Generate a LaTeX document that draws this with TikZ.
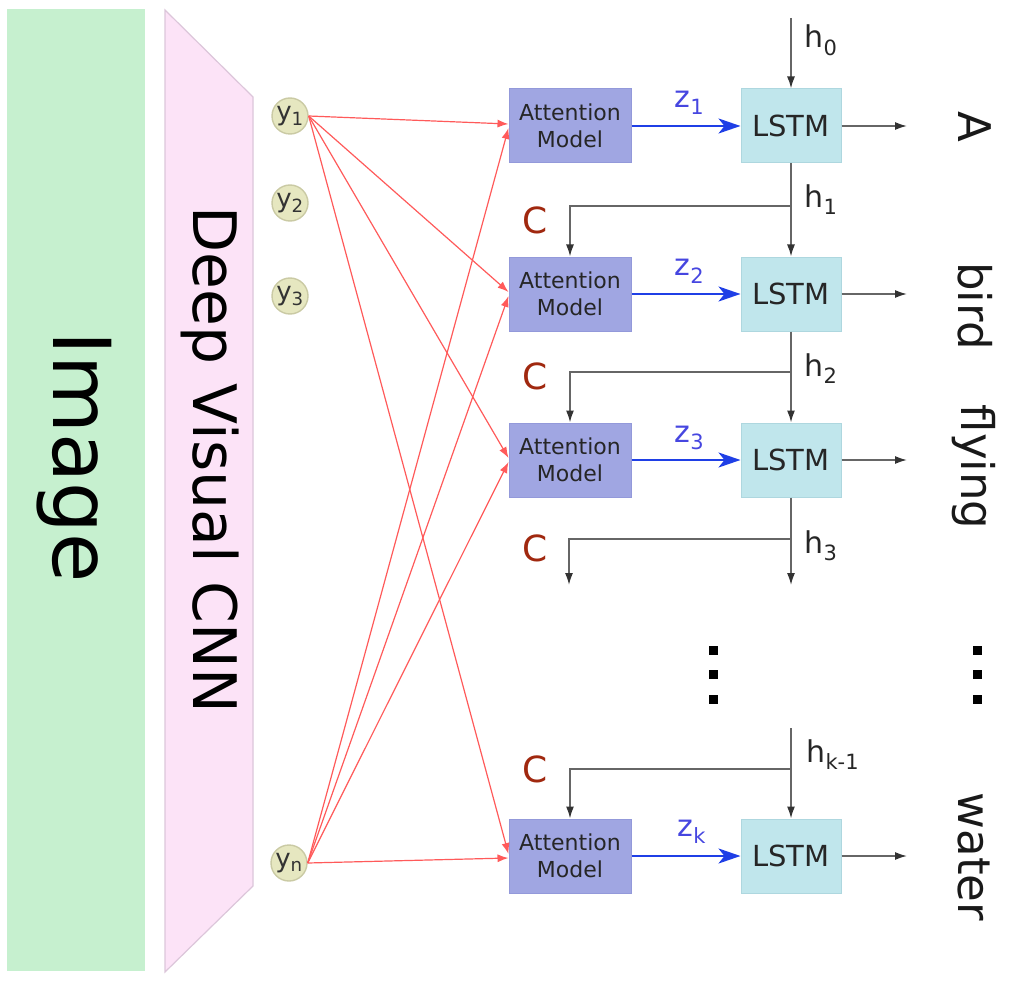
\documentclass[tikz,border=0pt]{standalone}
\usepackage{fontspec}
\setmainfont{DejaVu Sans}
\usetikzlibrary{arrows.meta}

\definecolor{imggreen}{HTML}{C6F0CF}
\definecolor{cnnpink}{HTML}{FCE3F7}
\definecolor{cnnedge}{HTML}{DCC6DA}
\definecolor{attfill}{HTML}{A0A6E2}
\definecolor{attedge}{HTML}{9399DA}
\definecolor{lstmfill}{HTML}{C0E6EC}
\definecolor{lstmedge}{HTML}{AED7DF}
\definecolor{featfill}{HTML}{E6E7C0}
\definecolor{featedge}{HTML}{CACAA4}
\definecolor{featline}{HTML}{FF5A5A}
\definecolor{zblue}{HTML}{1F3FE6}
\definecolor{zlabel}{HTML}{4646E0}
\definecolor{ctxred}{HTML}{A0280F}
\definecolor{flow}{HTML}{666666}

\newcommand{\setsize}[2]{\fontsize{#1}{#2}\selectfont}

\begin{document}
\begin{tikzpicture}[x=1pt,y=-1pt,
  attbox/.style={rectangle, fill=attfill, draw=attedge, line width=1pt,
    minimum width=122pt, minimum height=74pt, inner sep=0pt, align=center,
    text=black!85, font=\setsize{22}{27}},
  lstmbox/.style={rectangle, fill=lstmfill, draw=lstmedge, line width=1pt,
    minimum width=100pt, minimum height=74pt, inner sep=0pt,
    text=black!85, font=\setsize{29}{34}},
  feat/.style={circle, fill=featfill, draw=featedge, line width=1.4pt,
    minimum size=36pt, inner sep=0pt, text=black!80, font=\setsize{26}{28}},
  featarrow/.style={draw=featline, line width=1.2pt,
    -{Latex[length=11pt,width=8pt]}},
  zarrow/.style={draw=zblue, line width=2.4pt,
    -{Stealth[length=22pt,width=15pt,inset=6pt]}},
  flowarrow/.style={draw=flow, line width=1.6pt,
    -{Latex[length=12pt,width=8pt,color=black!80]}},
  zlab/.style={anchor=base west, text=zlabel, font=\setsize{30}{34}},
  hlab/.style={anchor=base west, text=black!85, font=\setsize{30}{34}},
  ctx/.style={text=ctxred, font=\setsize{36}{40}},
  word/.style={rotate=-90, anchor=base, text=black!90, font=\setsize{45}{50}},
]
\useasboundingbox (0,0) rectangle (1035,984);

% input image and CNN encoder
\fill[imggreen] (7,9) rectangle (145,971);
\filldraw[fill=cnnpink, draw=cnnedge, line width=1.2pt]
  (165,10) -- (253,97) -- (253,886) -- (165,972) -- cycle;
\node[rotate=-90, anchor=base, font=\setsize{80}{96}] (img) at (53,457) {Image};
\node[rotate=-90, anchor=base, font=\setsize{60}{72}] (cnn) at (193,460) {Deep Visual CNN};

% feature vectors
\node[feat] (y1) at (290,116) {y\textsubscript{1}};
\node[feat] (y2) at (290,203) {y\textsubscript{2}};
\node[feat] (y3) at (290,296) {y\textsubscript{3}};
\node[feat] (yn) at (289,863) {y\textsubscript{n}};

% attention models and LSTM cells
\node[attbox] (a1) at (570,126) {Attention\\Model};
\node[attbox] (a2) at (570,294) {Attention\\Model};
\node[attbox] (a3) at (570,460) {Attention\\Model};
\node[attbox] (ak) at (570,856) {Attention\\Model};

\node[lstmbox] (l1) at (791,126) {LSTM};
\node[lstmbox] (l2) at (791,294) {LSTM};
\node[lstmbox] (l3) at (791,460) {LSTM};
\node[lstmbox] (lk) at (791,856) {LSTM};

% features into every attention model
\foreach \t in {a1,a2,a3,ak} {
  \draw[featarrow] (y1.east) -- ([yshift=2pt]\t.west);
  \draw[featarrow] (yn.east) -- ([yshift=-2pt]\t.west);
}

% context vectors into the LSTM cells
\draw[zarrow] (a1) -- (l1);
\draw[zarrow] (a2) -- (l2);
\draw[zarrow] (a3) -- (l3);
\draw[zarrow] (ak) -- (lk);
\node[zlab] (z1) at (671,108) {z\textsubscript{1}};
\node[zlab] (z2) at (671,276) {z\textsubscript{2}};
\node[zlab] (z3) at (671,442) {z\textsubscript{3}};
\node[zlab] (zk) at (674,836) {z\textsubscript{k}};

% hidden states
\coordinate (h0) at (791,18);
\coordinate (b1) at (791,206);
\coordinate (b2) at (791,372);
\coordinate (b3) at (791,539);
\coordinate (e3l) at (569,585);
\coordinate (e3r) at (791,585);
\coordinate (hk) at (791,728);
\coordinate (bk) at (791,769);

\draw[flowarrow] (h0) -- (l1.north);
\draw[flowarrow] (l1.south) -- (l2.north);
\draw[flowarrow] (b1) -| (a2.north);
\draw[flowarrow] (l2.south) -- (l3.north);
\draw[flowarrow] (b2) -| (a3.north);
\draw[flowarrow] (l3.south) -- (e3r);
\draw[flowarrow] (b3) -| (e3l);
\draw[flowarrow] (hk) -- (lk.north);
\draw[flowarrow] (bk) -| (ak.north);

\node[hlab] (lh0) at (801,48) {h\textsubscript{0}};
\node[hlab] (lh1) at (801,208) {h\textsubscript{1}};
\node[hlab] (lh2) at (801,376) {h\textsubscript{2}};
\node[hlab] (lh3) at (801,553) {h\textsubscript{3}};
\node[hlab] (lhk) at (803,762) {h\textsubscript{k-1}};

\node[ctx] (c1) at (535,220) {C};
\node[ctx] (c2) at (535,376) {C};
\node[ctx] (c3) at (535,548) {C};
\node[ctx] (ck) at (535,769) {C};

% emitted words
\coordinate (o1) at (907,126);
\coordinate (o2) at (907,294);
\coordinate (o3) at (907,460);
\coordinate (ok) at (907,856);
\draw[flowarrow] (l1.east) -- (o1);
\draw[flowarrow] (l2.east) -- (o2);
\draw[flowarrow] (l3.east) -- (o3);
\draw[flowarrow] (lk.east) -- (ok);

\node[word] (w1) at (958,127) {A};
\node[word] (w2) at (958,306) {bird};
\node[word] (w3) at (961,467) {flying};
\node[word] (wk) at (958,857) {water};

% vertical ellipses
\foreach \yy in {650,674,699} {
  \fill (708.5,\yy-4.5) rectangle (717.5,\yy+4.5);
  \fill (972.5,\yy-4.5) rectangle (981.5,\yy+4.5);
}
\end{tikzpicture}
\end{document}
